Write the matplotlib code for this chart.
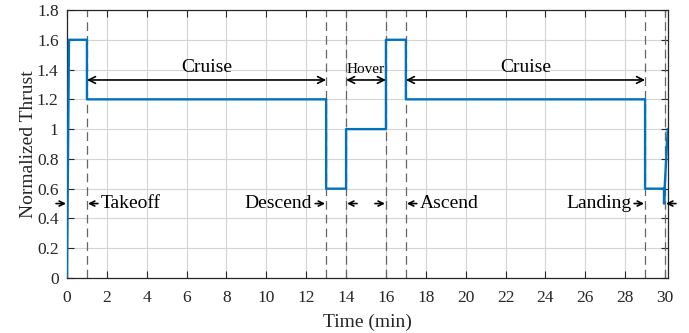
import matplotlib
matplotlib.use("Agg")
import matplotlib.pyplot as plt
import numpy as np

# Data
time_min = [0, 0.1, 1, 1, 13, 13, 14, 14, 16, 16, 17, 17, 29, 29, 29.95, 29.95, 29.98, 30.14]
thrust = [0, 1.6, 1.6, 1.2, 1.2, 0.6, 0.6, 1.0, 1.0, 1.6, 1.6, 1.2, 1.2, 0.6, 0.6, 0.5, 0.6, 1.0]
phase_bounds = [1, 13, 14, 16, 17, 29, 30]
long_phases = [("Cruise", 1, 13), ("Hover", 14, 16), ("Cruise", 17, 29)]
short_phases = [("Takeoff", 0, 1, "right"), ("Descend", 13, 14, "left"),
                ("Ascend", 16, 17, "right"), ("Landing", 29, 30, "left")]
xticks = list(range(0, 31, 2))
yticks = [0, 0.2, 0.4, 0.6, 0.8, 1.0, 1.2, 1.4, 1.6, 1.8]
ytick_labels = ["0", "0.2", "0.4", "0.6", "0.8", "1", "1.2", "1.4", "1.6", "1.8"]

plt.rcParams['font.family'] = ['Liberation Serif', 'DejaVu Serif']
plt.rcParams['mathtext.fontset'] = 'stix'

fig = plt.figure(figsize=(6.89, 3.33), dpi=100)
ax = fig.add_axes([67/689, 1-278/333, (668-67)/689, (278-10)/333])

ax.set_xlim(0, 30.15)
ax.set_ylim(0, 1.8)
ax.set_xticks(xticks)
ax.set_yticks(yticks)
ax.set_yticklabels(ytick_labels)
ax.grid(True, color='#d4d4d4', lw=0.8)
ax.set_axisbelow(True)
ax.tick_params(direction='in', top=True, right=True, length=5, width=0.8,
               labelsize=12.5, colors='#262626')
ax.tick_params(axis='x', pad=9)
ax.tick_params(axis='y', pad=6)
for s in ax.spines.values():
    s.set_color('#262626')
    s.set_linewidth(0.9)

for b in phase_bounds:
    ax.axvline(b, color='#666666', lw=0.9, ls=(0, (7, 4)), zorder=2)

ax.plot(time_min, thrust, color='#0072BD', lw=1.7, zorder=3)

# long double arrows
ya = 1.33
for name, a, b in long_phases:
    ax.annotate('', xy=(a, ya), xytext=(b, ya),
                arrowprops=dict(arrowstyle='<->', color='black', lw=1.2,
                                shrinkA=0, shrinkB=0, mutation_scale=12))
    fs = 11 if name == "Hover" else 14
    ax.text((a + b) / 2, ya + 0.03, name, ha='center', va='bottom', fontsize=fs)

# short outside arrows
yb = 0.5
L = 0.5
gap = 0.05
for name, a, b, side in short_phases:
    ax.annotate('', xy=(a - gap, yb), xytext=(a - gap - L, yb),
                arrowprops=dict(arrowstyle='->', color='black', lw=1.2,
                                shrinkA=0, shrinkB=0, mutation_scale=9),
                annotation_clip=False)
    ax.annotate('', xy=(b + gap, yb), xytext=(b + gap + L, yb),
                arrowprops=dict(arrowstyle='->', color='black', lw=1.2,
                                shrinkA=0, shrinkB=0, mutation_scale=9),
                annotation_clip=False)
    if side == "right":
        ax.text(b + gap + L + 0.15, yb, name, ha='left', va='center', fontsize=14)
    else:
        ax.text(a - gap - L - 0.15, yb, name, ha='right', va='center', fontsize=14)

ax.set_xlabel('Time (min)', fontsize=14, color='#262626', labelpad=5)
ax.set_ylabel('Normalized Thrust', fontsize=14, color='#262626', labelpad=0)

fig.savefig('out.png', dpi=100)
